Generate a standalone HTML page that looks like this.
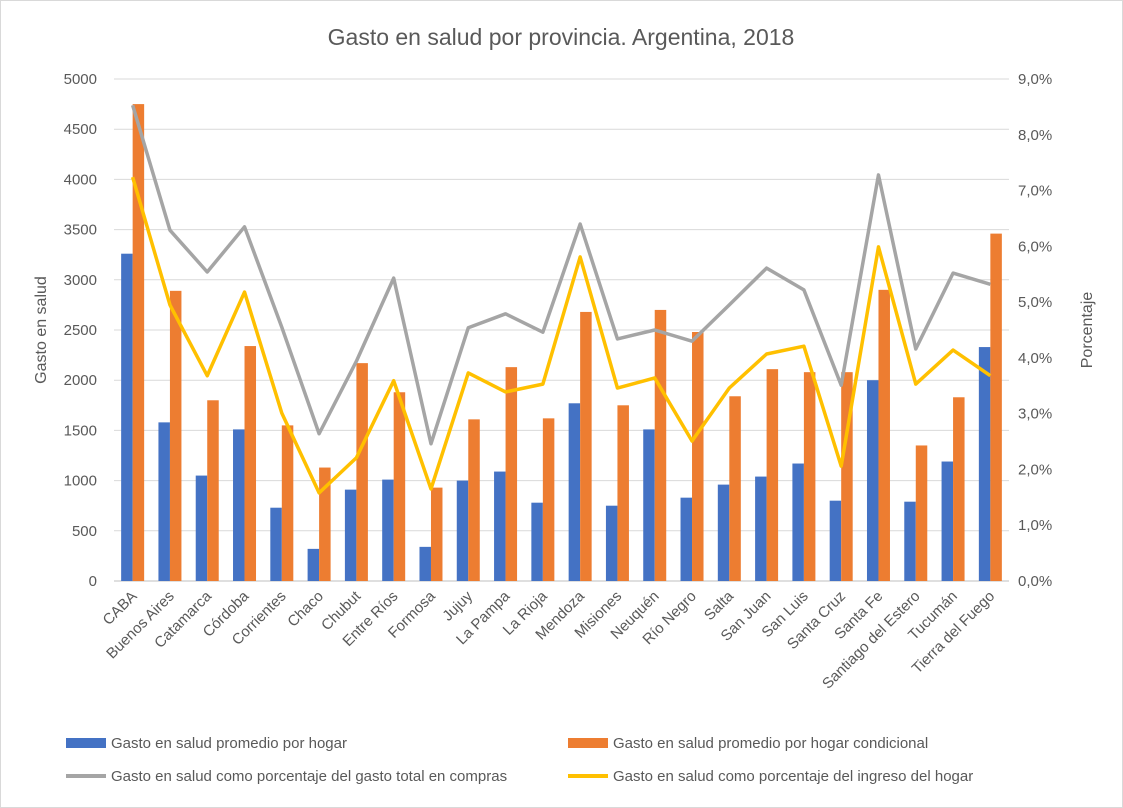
<!DOCTYPE html>
<html><head><meta charset="utf-8">
<style>
body{margin:0;background:#fff;font-family:"Liberation Sans",sans-serif;}
svg{display:block}
text{font-family:"Liberation Sans",sans-serif;fill:#595959}
</style></head>
<body>
<svg id="chart" width="1123" height="808">
<rect x="0.5" y="0.5" width="1122" height="807" fill="#fff" stroke="#d9d9d9"/>
<text x="561" y="45" text-anchor="middle" font-size="23">Gasto en salud por provincia. Argentina, 2018</text>
<text transform="translate(46,330) rotate(-90)" text-anchor="middle" font-size="16">Gasto en salud</text>
<text transform="translate(1092,330) rotate(-90)" text-anchor="middle" font-size="16">Porcentaje</text>
<g id="grid"></g><g id="bars"></g><g id="lines"></g><g id="axes"></g>
<g id="legend" font-size="15">
<rect x="66" y="738" width="40" height="10" fill="#4472c4"/>
<text x="111" y="748">Gasto en salud promedio por hogar</text>
<rect x="568" y="738" width="40" height="10" fill="#ed7d31"/>
<text x="613" y="748">Gasto en salud promedio por hogar condicional</text>
<line x1="66" y1="776" x2="106" y2="776" stroke="#a5a5a5" stroke-width="4"/>
<text x="111" y="781">Gasto en salud como porcentaje del gasto total en compras</text>
<line x1="568" y1="776" x2="608" y2="776" stroke="#ffc000" stroke-width="4"/>
<text x="613" y="781">Gasto en salud como porcentaje del ingreso del hogar</text>
</g>
</svg>
<script>
const categories=["CABA","Buenos Aires","Catamarca","Córdoba","Corrientes","Chaco","Chubut","Entre Ríos","Formosa","Jujuy","La Pampa","La Rioja","Mendoza","Misiones","Neuquén","Río Negro","Salta","San Juan","San Luis","Santa Cruz","Santa Fe","Santiago del Estero","Tucumán","Tierra del Fuego"];
const promedio=[3260,1580,1050,1510,730,320,910,1010,340,1000,1090,780,1770,750,1510,830,960,1040,1170,800,2000,790,1190,2330];
const condicional=[4750,2890,1800,2340,1550,1130,2170,1880,930,1610,2130,1620,2680,1750,2700,2480,1840,2110,2080,2080,2900,1350,1830,3460];
const pctCompras=[8.53,6.29,5.54,6.35,4.55,2.64,3.94,5.43,2.46,4.54,4.79,4.46,6.40,4.34,4.50,4.30,4.95,5.61,5.22,3.51,7.28,4.16,5.52,5.32];
const pctIngreso=[7.24,4.95,3.68,5.18,3.01,1.58,2.21,3.59,1.65,3.73,3.39,3.53,5.81,3.46,3.64,2.51,3.46,4.07,4.21,2.06,5.99,3.53,4.14,3.68];
const leftTicks=[0,500,1000,1500,2000,2500,3000,3500,4000,4500,5000];
const rightTicks=["0,0%","1,0%","2,0%","3,0%","4,0%","5,0%","6,0%","7,0%","8,0%","9,0%"];
const NS="http://www.w3.org/2000/svg";
const X0=114,X1=1009,Y0=581,Y1=79;
const cw=(X1-X0)/categories.length;
const yL=v=>Y0-(v/5000)*(Y0-Y1);
const yR=v=>Y0-(v/9)*(Y0-Y1);
const xC=i=>X0+cw*(i+0.5);
function mk(tag,attrs,parent){const e=document.createElementNS(NS,tag);for(const k in attrs)e.setAttribute(k,attrs[k]);document.getElementById(parent).appendChild(e);return e;}
leftTicks.forEach(t=>{
  const g=mk("line",{x1:X0,x2:X1,y1:yL(t),y2:yL(t),stroke:t===0?"#bfbfbf":"#d9d9d9","stroke-width":1},"grid");
  
  
  const l=mk("text",{x:97,y:yL(t)+5,"text-anchor":"end","font-size":15},"axes");l.textContent=t;
  
  
});
rightTicks.forEach((t,i)=>{
  const l=mk("text",{x:1018,y:yR(i)+5,"font-size":15},"axes");l.textContent=t;
  
  
});
const bw=11.5;
categories.forEach((c,i)=>{
  const cx=xC(i);
  const b=mk("rect",{x:cx-bw,y:yL(promedio[i]),width:bw,height:Y0-yL(promedio[i]),fill:"#4472c4"},"bars");
  
  
  const o=mk("rect",{x:cx,y:yL(condicional[i]),width:bw,height:Y0-yL(condicional[i]),fill:"#ed7d31"},"bars");
  
  
  const t=mk("text",{transform:`translate(${cx+5},${Y0+16}) rotate(-45)`,"text-anchor":"end","font-size":15},"axes");t.textContent=c;
  
  
});
const l1=mk("polyline",{points:pctCompras.map((v,i)=>xC(i)+","+yR(v)).join(" "),fill:"none",stroke:"#a5a5a5","stroke-width":3.5,"stroke-linejoin":"round"},"lines");


const l2=mk("polyline",{points:pctIngreso.map((v,i)=>xC(i)+","+yR(v)).join(" "),fill:"none",stroke:"#ffc000","stroke-width":3.5,"stroke-linejoin":"round"},"lines");


</script>
</body></html>
